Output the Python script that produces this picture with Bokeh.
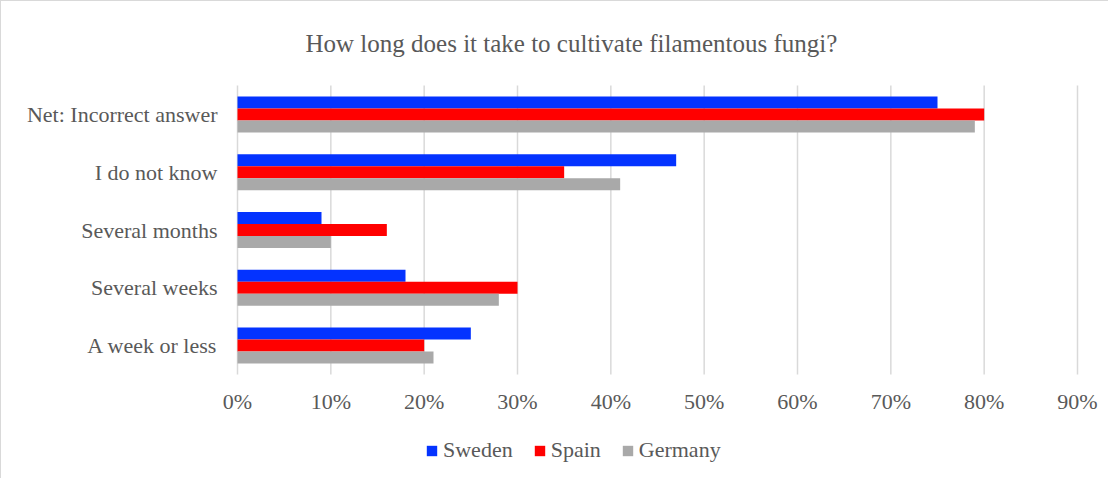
from bokeh.plotting import figure
from bokeh.models import ColumnDataSource, FixedTicker, Legend, LegendItem, Range1d
from bokeh.core.properties import value
from bokeh.transform import dodge
from bokeh.embed import file_html
from bokeh.resources import INLINE

# Data (top to bottom as in the reference)
categories = ["Net: Incorrect answer", "I do not know", "Several months", "Several weeks", "A week or less"]
sweden = [75, 47, 9, 18, 25]
spain = [80, 35, 16, 30, 20]
germany = [79, 41, 10, 28, 21]
series_names = ["Sweden", "Spain", "Germany"]
series_colors = ["#0433FF", "#FF0000", "#A9A9A9"]
tick_values = [0, 10, 20, 30, 40, 50, 60, 70, 80, 90]
tick_labels = [f"{t}%" for t in tick_values]
title_text = "How long does it take to cultivate filamentous fungi?"

FONT = "Liberation Serif"
TXT = "#595959"
GRID = "#d9d9d9"

# layout (canvas pixels)
W, H = 1108, 478
FRAME_L, FRAME_R = 218, 1099           # frame extent (wider than the value axis)
ZERO_X, MAX_X = 236, 1076              # where 0% and 90% sit
CAT_TOP, CAT_BOTTOM = 84, 373          # category band inside the frame
n = len(categories)
ppu = (CAT_BOTTOM - CAT_TOP) / n       # pixels per category unit
y_top = (n - 0.5) + CAT_TOP / ppu
y_bot = -0.5 - (H - CAT_BOTTOM) / ppu
px_x = 0.9 / (MAX_X - ZERO_X)          # data units per pixel along x
x_start = -(ZERO_X - FRAME_L) * px_x
x_end = 0.9 + (FRAME_R - MAX_X) * px_x

cat_y = [n - 1 - i for i in range(n)]
src = ColumnDataSource(dict(
    y=cat_y,
    Sweden=[v / 100 for v in sweden],
    Spain=[v / 100 for v in spain],
    Germany=[v / 100 for v in germany],
))

p = figure(x_range=Range1d(x_start, x_end), y_range=Range1d(y_bot, y_top), width=W, height=H,
           output_backend="svg", toolbar_location=None, title=None, x_axis_location=None,
           min_border_left=FRAME_L, min_border_right=W - FRAME_R, min_border_top=0, min_border_bottom=0)
p.styles = {"border-left": "1px solid #d9d9d9", "border-top": "1px solid #d9d9d9"}
p.outline_line_color = None
p.xgrid.grid_line_color = None
p.ygrid.grid_line_color = None

# vertical grid lines over the category band
p.segment(x0=[t / 100 for t in tick_values], x1=[t / 100 for t in tick_values],
          y0=-0.5, y1=n - 0.5, line_color=GRID, line_width=1.5)

bh = 0.2076
offsets = [bh, 0.0, -bh]
renderers = []
for name, col, off in zip(series_names, series_colors, offsets):
    r = p.hbar(y=dodge("y", off), left=0, right=name, height=bh,
               source=src, fill_color=col, line_color=None)
    renderers.append(r)

# x tick labels below the band
p.text(x=[t / 100 for t in tick_values], y=-0.5 - 27 / ppu, text=tick_labels,
       text_font=value(FONT), text_font_size="22px", text_color=TXT,
       text_align="center", text_baseline="middle")

# title
p.text(x=[68 * px_x], y=[(n - 0.5) + 42 / ppu], text=[title_text],
       text_font=value(FONT), text_font_size="25px", text_color=TXT,
       text_align="left", text_baseline="middle")

yax = p.yaxis[0]
yax.ticker = FixedTicker(ticks=cat_y)
yax.major_label_overrides = {y: c for y, c in zip(cat_y, categories)}
yax.axis_line_color = None
yax.major_tick_line_color = None
yax.minor_tick_line_color = None
yax.major_tick_out = 0
yax.major_tick_in = 0
yax.major_label_text_font = FONT
yax.major_label_text_font_size = "22px"
yax.major_label_text_color = TXT
yax.major_label_standoff = 2

legend = Legend(items=[LegendItem(label=s, renderers=[r]) for s, r in zip(series_names, renderers)],
                orientation="horizontal", location=(188 + ZERO_X - FRAME_L, 16))
legend.padding = 0
legend.margin = 0
legend.spacing = 20
legend.glyph_width = 13
legend.glyph_height = 13
legend.label_standoff = 5
legend.label_text_font = FONT
legend.label_text_font_size = "22px"
legend.label_text_color = TXT
legend.border_line_color = None
legend.background_fill_alpha = 0
p.add_layout(legend, "center")

open("out.html", "w").write(file_html(p, INLINE))
